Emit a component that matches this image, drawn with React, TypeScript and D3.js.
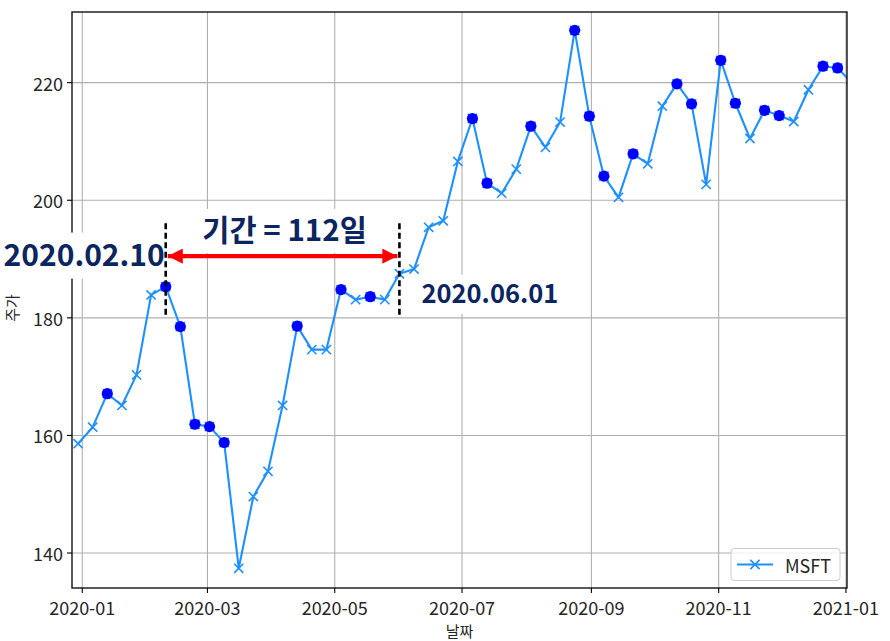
import React, { useEffect, useRef } from "react";
import * as d3 from "d3";

// ---------- data ----------
const dates = [
  "2019-12-30", "2020-01-06", "2020-01-13", "2020-01-20", "2020-01-27",
  "2020-02-03", "2020-02-10", "2020-02-17", "2020-02-24", "2020-03-02",
  "2020-03-09", "2020-03-16", "2020-03-23", "2020-03-30", "2020-04-06",
  "2020-04-13", "2020-04-20", "2020-04-27", "2020-05-04", "2020-05-11",
  "2020-05-18", "2020-05-25", "2020-06-01", "2020-06-08", "2020-06-15",
  "2020-06-22", "2020-06-29", "2020-07-06", "2020-07-13", "2020-07-20",
  "2020-07-27", "2020-08-03", "2020-08-10", "2020-08-17", "2020-08-24",
  "2020-08-31", "2020-09-07", "2020-09-14", "2020-09-21", "2020-09-28",
  "2020-10-05", "2020-10-12", "2020-10-19", "2020-10-26", "2020-11-02",
  "2020-11-09", "2020-11-16", "2020-11-23", "2020-11-30", "2020-12-07",
  "2020-12-14", "2020-12-21", "2020-12-28", "2021-01-04",
];
const prices = [
  158.6, 161.4, 167.1, 165.1, 170.3, 183.9, 185.3, 178.5, 161.9, 161.5,
  158.8, 137.4, 149.6, 153.9, 165.1, 178.6, 174.6, 174.6, 184.8, 183.1,
  183.6, 183.1, 187.5, 188.3, 195.4, 196.5, 206.6, 213.9, 202.9, 201.2,
  205.3, 212.6, 209.0, 213.3, 228.9, 214.3, 204.1, 200.5, 207.9, 206.2,
  216.0, 219.8, 216.4, 202.7, 223.8, 216.5, 210.5, 215.3, 214.4, 213.4,
  218.8, 222.8, 222.5, 219.9,
];
const highlighted = [
  0, 0, 1, 0, 0, 0, 1, 1, 1, 1,
  1, 0, 0, 0, 0, 1, 0, 0, 1, 0,
  1, 0, 0, 0, 0, 0, 0, 1, 1, 0,
  0, 1, 0, 0, 1, 1, 1, 0, 1, 0,
  0, 1, 1, 0, 1, 1, 0, 1, 1, 0,
  0, 1, 1, 1,
];
const seriesName = "MSFT";
const xTickDates = ["2020-01-01", "2020-03-01", "2020-05-01", "2020-07-01", "2020-09-01", "2020-11-01", "2021-01-01"];
const xTickLabels = ["2020-01", "2020-03", "2020-05", "2020-07", "2020-09", "2020-11", "2021-01"];
const yTicks = [140, 160, 180, 200, 220];
const xDomain = ["2019-12-27T02:00", "2021-01-01T12:00"];
const yDomain = [134.05, 232.02];
const xLabel = "날짜";
const yLabel = "주가";
const periodStart = "2020-02-10";
const periodEnd = "2020-06-01";
const startLabel = "2020.02.10";
const endLabel = "2020.06.01";
const periodLabel = "기간 = 112일";
// annotation heights in data units
const arrowY = 190.5;
const guideTop = 196.1;
const guideBottom = 180.3;
const startLabelY = 191.1;
const endLabelY = 184.5;
const periodLabelY = 195.3;

const W = 890;
const H = 641;
const M = { left: 72, right: 847, top: 12, bottom: 588 };
const FONT = "'Noto Sans CJK KR', 'Noto Sans', sans-serif";
const NAVY = "#0b2560";

export default function App() {
  const ref = useRef<SVGSVGElement | null>(null);

  useEffect(() => {
    const svg = d3.select(ref.current);
    svg.selectAll("*").remove();
    const parse = d3.timeParse("%Y-%m-%d");
    const parseT = d3.timeParse("%Y-%m-%dT%H:%M");
    const data = dates.map((d, i) => ({ date: parse(d) as Date, v: prices[i], hi: highlighted[i] === 1 }));

    const x = d3.scaleTime().domain([parseT(xDomain[0]) as Date, parseT(xDomain[1]) as Date]).range([M.left, M.right]);
    const y = d3.scaleLinear().domain(yDomain).range([M.bottom, M.top]);

    svg.append("rect").attr("width", W).attr("height", H).attr("fill", "#fff");

    const defs = svg.append("defs");
    defs.append("clipPath").attr("id", "plotclip")
      .append("rect").attr("x", M.left).attr("y", M.top)
      .attr("width", M.right - M.left).attr("height", M.bottom - M.top);
    const arrowMarker = (id: string, orient: string) =>
      defs.append("marker").attr("id", id).attr("viewBox", "0 0 10 10")
        .attr("refX", 10).attr("refY", 5).attr("markerWidth", 3.6).attr("markerHeight", 3.6)
        .attr("markerUnits", "strokeWidth").attr("orient", orient)
        .append("path").attr("d", "M0,0 L10,5 L0,10 Z").attr("fill", "#ff0000");
    arrowMarker("arrowEnd", "auto");
    arrowMarker("arrowStart", "auto-start-reverse");

    // grid
    const xt = xTickDates.map((d) => parse(d) as Date);
    const g = svg.append("g");
    g.selectAll("line.gx").data(xt).enter().append("line")
      .attr("x1", (d) => x(d)).attr("x2", (d) => x(d))
      .attr("y1", M.top).attr("y2", M.bottom)
      .attr("stroke", "#b0b0b0").attr("stroke-width", 1.1);
    g.selectAll("line.gy").data(yTicks).enter().append("line")
      .attr("x1", M.left).attr("x2", M.right)
      .attr("y1", (d) => y(d)).attr("y2", (d) => y(d))
      .attr("stroke", "#b0b0b0").attr("stroke-width", 1.1);

    // data
    const plot = svg.append("g").attr("clip-path", "url(#plotclip)");
    const line = d3.line<any>().x((d) => x(d.date)).y((d) => y(d.v));
    plot.append("path").datum(data).attr("d", line)
      .attr("fill", "none").attr("stroke", "#1e90ff").attr("stroke-width", 2.1)
      .attr("stroke-linejoin", "round");
    const s = 4.6;
    plot.selectAll("path.xm").data(data).enter().append("path")
      .attr("d", (d) => {
        const cx = x(d.date), cy = y(d.v);
        return `M${cx - s},${cy - s}L${cx + s},${cy + s}M${cx - s},${cy + s}L${cx + s},${cy - s}`;
      })
      .attr("stroke", "#1e90ff").attr("stroke-width", 1.6).attr("fill", "none");
    plot.selectAll("circle").data(data.filter((d) => d.hi)).enter().append("circle")
      .attr("cx", (d) => x(d.date)).attr("cy", (d) => y(d.v)).attr("r", 5.6)
      .attr("fill", "#0000ff");

    // spines
    svg.append("rect").attr("x", M.left).attr("y", M.top)
      .attr("width", M.right - M.left).attr("height", M.bottom - M.top)
      .attr("fill", "none").attr("stroke", "#000").attr("stroke-width", 1.3);

    // ticks
    const tickG = svg.append("g").attr("font-family", FONT).attr("font-size", 18).attr("fill", "#262626");
    xt.forEach((d, i) => {
      tickG.append("line").attr("x1", x(d)).attr("x2", x(d)).attr("y1", M.bottom).attr("y2", M.bottom + 5)
        .attr("stroke", "#000").attr("stroke-width", 1.1);
      tickG.append("text").attr("x", x(d)).attr("y", M.bottom + 19)
        .attr("text-anchor", "middle").attr("dominant-baseline", "central").text(xTickLabels[i]);
    });
    yTicks.forEach((t) => {
      tickG.append("line").attr("x1", M.left - 5).attr("x2", M.left).attr("y1", y(t)).attr("y2", y(t))
        .attr("stroke", "#000").attr("stroke-width", 1.1);
      tickG.append("text").attr("x", M.left - 9).attr("y", y(t))
        .attr("text-anchor", "end").attr("dominant-baseline", "central").text(String(t));
    });
    tickG.append("text").attr("x", (M.left + M.right) / 2).attr("y", 630)
      .attr("text-anchor", "middle").attr("dominant-baseline", "central").attr("font-size", 15).text(xLabel);
    tickG.append("text").attr("transform", `translate(11,${(M.top + M.bottom) / 2 + 8}) rotate(-90)`)
      .attr("text-anchor", "middle").attr("dominant-baseline", "central").attr("font-size", 15).text(yLabel);

    // legend
    const lg = svg.append("g");
    lg.append("rect").attr("x", 731).attr("y", 548.5).attr("width", 109).attr("height", 32).attr("rx", 3)
      .attr("fill", "#fff").attr("fill-opacity", 0.8).attr("stroke", "#cccccc").attr("stroke-width", 1);
    lg.append("line").attr("x1", 737).attr("x2", 773).attr("y1", 564.5).attr("y2", 564.5)
      .attr("stroke", "#1e90ff").attr("stroke-width", 2.1);
    lg.append("path").attr("d", `M${755 - s},${564.5 - s}L${755 + s},${564.5 + s}M${755 - s},${564.5 + s}L${755 + s},${564.5 - s}`)
      .attr("stroke", "#1e90ff").attr("stroke-width", 1.6);
    lg.append("text").attr("x", 785).attr("y", 564.5).attr("dominant-baseline", "central")
      .attr("font-family", FONT).attr("font-size", 18).attr("fill", "#262626").text(seriesName);

    // annotations
    const xs = x(parse(periodStart) as Date);
    const xe = x(parse(periodEnd) as Date);
    const ann = svg.append("g");

    const label = (txt: string, tx: number, ty: number, anchor: string, size: number) => {
      const gg = ann.append("g");
      const r = gg.append("rect").attr("fill", "#fff");
      const t = gg.append("text").attr("x", tx).attr("y", ty).attr("text-anchor", anchor)
        .attr("dominant-baseline", "central").attr("font-family", FONT).attr("font-weight", 700)
        .attr("font-size", size).attr("fill", NAVY).attr("xml:space", "preserve").text(txt);
      const bb = (t.node() as SVGTextElement).getBBox();
      const p = 6;
      r.attr("x", bb.x - p).attr("y", bb.y + 2).attr("width", bb.width + 2 * p).attr("height", bb.height + 2);
    };
    label(startLabel, xs - 1, y(startLabelY), "end", 30);
    label(endLabel, xe + 22, y(endLabelY), "start", 25.5);
    label(periodLabel, (xs + xe) / 2 + 2, y(periodLabelY), "middle", 29.5);

    [xs, xe].forEach((xx) => {
      ann.append("line").attr("x1", xx).attr("x2", xx).attr("y1", y(guideTop)).attr("y2", y(guideBottom))
        .attr("stroke", "#000").attr("stroke-width", 2.6).attr("stroke-dasharray", "6,3.5");
    });
    ann.append("line").attr("x1", xs + 2).attr("x2", xe - 2).attr("y1", y(arrowY)).attr("y2", y(arrowY))
      .attr("stroke", "#ff0000").attr("stroke-width", 4.2)
      .attr("marker-start", "url(#arrowStart)").attr("marker-end", "url(#arrowEnd)");
  }, []);

  return (
    <svg ref={ref} width={W} height={H}
      style={{ position: "absolute", left: 0, top: 0, display: "block" }} />
  );
}
